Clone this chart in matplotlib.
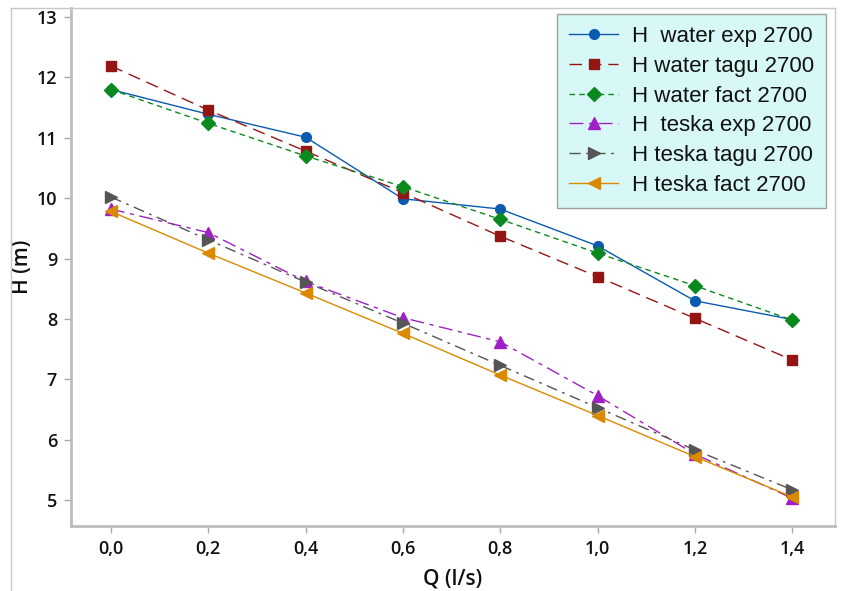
import matplotlib
matplotlib.use("Agg")
import matplotlib.pyplot as plt
from matplotlib.lines import Line2D

q = [0.0, 0.2, 0.4, 0.6, 0.8, 1.0, 1.2, 1.4]
h_water_exp = [11.80, 11.39, 11.01, 9.99, 9.82, 9.21, 8.30, 7.99]
h_water_tagu = [12.19, 11.46, 10.78, 10.09, 9.37, 8.70, 8.01, 7.32]
h_water_fact = [11.80, 11.24, 10.70, 10.19, 9.65, 9.09, 8.55, 7.98]
h_teska_exp = [9.82, 9.43, 8.62, 8.02, 7.62, 6.73, 5.76, 5.03]
h_teska_tagu = [10.02, 9.31, 8.61, 7.93, 7.23, 6.53, 5.83, 5.17]
h_teska_fact = [9.78, 9.09, 8.43, 7.76, 7.07, 6.40, 5.72, 5.05]

labels = ["H  water exp 2700", "H water tagu 2700", "H water fact 2700",
          "H  teska exp 2700", "H teska tagu 2700", "H teska fact 2700"]
xticks = [0.0, 0.2, 0.4, 0.6, 0.8, 1.0, 1.2, 1.4]
xticklabels = ["0,0", "0,2", "0,4", "0,6", "0,8", "1,0", "1,2", "1,4"]
yticks = [5, 6, 7, 8, 9, 10, 11, 12, 13]

fig = plt.figure(figsize=(8.42, 5.91), dpi=100)
ax = fig.add_axes([71/842, 1-526/591, (835-71)/842, (526-8)/591])

series = [h_water_exp, h_water_tagu, h_water_fact, h_teska_exp, h_teska_tagu, h_teska_fact]
styles = [
    dict(color="#0a5bb0", ls="-", marker="o", ms=7),
    dict(color="#951515", ls=(0, (9, 5)), marker="s", ms=7),
    dict(color="#0a8a1e", ls=(0, (4, 3)), marker="D", ms=7),
    dict(color="#a020c8", ls=(0, (10, 4, 3, 4)), marker="^", ms=8),
    dict(color="#555555", ls=(0, (8, 4, 2, 4)), marker=">", ms=8),
    dict(color="#d98a00", ls="-", marker="<", ms=8),
]
for y, st, lab in zip(series, styles, labels):
    ax.plot(q, y, color=st["color"], ls=st["ls"], lw=1.0, marker=st["marker"],
            ms=st["ms"], markerfacecolor=st["color"], markeredgecolor=st["color"],
            label=lab)

ax.set_xlim(-0.082, 1.488)
ax.set_ylim(4.57, 13.15)
ax.set_xticks(xticks)
ax.set_xticklabels(xticklabels)
ax.set_yticks(yticks)

for s in ["left", "bottom"]:
    ax.spines[s].set_color("#bdbdbd")
    ax.spines[s].set_linewidth(2.0)
for s in ["top", "right"]:
    ax.spines[s].set_color("#c8c8c8")
    ax.spines[s].set_linewidth(1.0)

ax.tick_params(axis="both", direction="out", length=5, width=1, color="#aaaaaa",
               labelsize=13, pad=5, labelcolor="#111111")
for t in ax.get_xticklabels() + ax.get_yticklabels():
    t.set_fontfamily("Open Sans")
    t.set_fontweight("semibold")

ax.set_xlabel("Q (l/s)", fontsize=15, fontfamily="Open Sans", fontweight="semibold",
              labelpad=8, color="#111111")
ax.set_ylabel("H (m)", fontsize=15, fontfamily="Open Sans", fontweight="semibold",
              color="#111111")
ax.yaxis.set_label_coords(-0.05, 0.5)

leg = ax.legend(loc="upper right", bbox_to_anchor=(826/842, 1-14/591),
                bbox_transform=fig.transFigure,
                prop={"family": "Liberation Sans", "size": 16},
                frameon=True, fancybox=False, handlelength=2.2,
                borderpad=0.55, labelspacing=0.39, handletextpad=0.6,
                borderaxespad=0)
leg.get_frame().set_facecolor("#d8f8f8")
leg.get_frame().set_edgecolor("#a0a0a0")
leg.get_frame().set_alpha(1)
leg.get_frame().set_linewidth(1.0)
for t in leg.get_texts():
    t.set_color("#111111")

# outer frame lines
fig.add_artist(Line2D([11/842, 11/842], [0, 1-8/591], transform=fig.transFigure,
                      color="#c8c8c8", lw=1.0))
fig.add_artist(Line2D([11/842, 71/842], [1-8/591, 1-8/591], transform=fig.transFigure,
                      color="#c8c8c8", lw=1.0))

fig.savefig("out.png", dpi=100)
